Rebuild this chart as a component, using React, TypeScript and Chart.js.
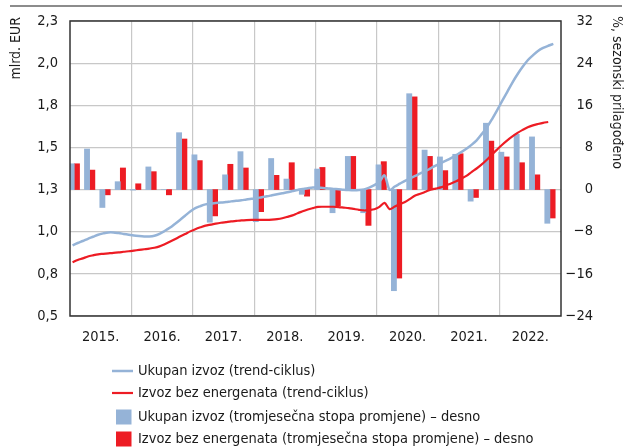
import React, { useEffect, useRef } from 'react';
import { Chart, registerables } from 'chart.js';

Chart.register(...registerables);

// ---------- data ----------
const years = ['2015.', '2016.', '2017.', '2018.', '2019.', '2020.', '2021.', '2022.'];
const leftTickValues = [0.5, 0.75, 1.0, 1.25, 1.5, 1.75, 2.0, 2.25];
const leftTickLabels = ['0,5', '0,8', '1,0', '1,3', '1,5', '1,8', '2,0', '2,3'];
const rightTickValues = [-24, -16, -8, 0, 8, 16, 24, 32];
const rightTickLabels = ['\u221224', '\u221216', '\u22128', '0', '8', '16', '24', '32'];

const legendLabels = [
  'Ukupan izvoz (trend-ciklus)',
  'Izvoz bez energenata (trend-ciklus)',
  'Ukupan izvoz (tromjesečna stopa promjene) – desno',
  'Izvoz bez energenata (tromjesečna stopa promjene) – desno',
];

// quarterly rate of change, %, 2015Q1 .. 2022Q4 (right axis)
const totalExportQoQ = [
  4.9, 7.7, -3.4, 1.5,
  -0.1, 4.3, 0.0, 10.8,
  6.6, -6.2, 2.8, 7.2,
  -6.1, 5.9, 2.0, -0.9,
  3.9, -4.4, 6.3, -4.4,
  4.7, -19.2, 18.2, 7.5,
  6.2, 6.7, -2.2, 12.6,
  7.1, 10.5, 10.0, -6.4,
];
const nonEnergyExportQoQ = [
  4.9, 3.7, -1.0, 4.1,
  1.1, 3.4, -1.0, 9.6,
  5.5, -5.0, 4.8, 4.1,
  -4.2, 2.7, 5.1, -1.25,
  4.2, -3.1, 6.3, -6.8,
  5.3, -16.8, 17.6, 6.3,
  3.6, 6.8, -1.5, 9.2,
  6.2, 5.1, 2.8, -5.4,
];

// monthly trend-cycle, bn EUR, from Jan 2015 (left axis)
const totalExportTrend = [
  0.919, 0.933, 0.945, 0.958, 0.970, 0.982, 0.990, 0.996, 0.996, 0.992, 0.987, 0.982,
  0.977, 0.974, 0.972, 0.972, 0.976, 0.987, 1.004, 1.023, 1.046, 1.070, 1.095, 1.120,
  1.140, 1.152, 1.162, 1.167, 1.170, 1.173, 1.176, 1.180, 1.183, 1.186, 1.191, 1.195,
  1.199, 1.205, 1.210, 1.216, 1.222, 1.228, 1.234, 1.241, 1.248, 1.253, 1.258, 1.262,
  1.262, 1.260, 1.257, 1.254, 1.252, 1.249, 1.247, 1.246, 1.247, 1.251, 1.261, 1.276,
  1.297, 1.334, 1.248, 1.268, 1.285, 1.302, 1.317, 1.331, 1.346, 1.359, 1.376, 1.392,
  1.407, 1.421, 1.436, 1.454, 1.472, 1.492, 1.515, 1.542, 1.579, 1.618, 1.667, 1.720,
  1.776, 1.830, 1.885, 1.934, 1.978, 2.017, 2.046, 2.072, 2.090, 2.103, 2.114,
];
const nonEnergyExportTrend = [
  0.819, 0.832, 0.842, 0.853, 0.860, 0.866, 0.869, 0.872, 0.875, 0.877, 0.881, 0.884,
  0.888, 0.892, 0.896, 0.900, 0.905, 0.913, 0.926, 0.940, 0.955, 0.971, 0.986, 1.002,
  1.015, 1.026, 1.036, 1.042, 1.048, 1.053, 1.057, 1.061, 1.064, 1.067, 1.069, 1.070,
  1.070, 1.070, 1.070, 1.072, 1.075, 1.080, 1.088, 1.097, 1.110, 1.121, 1.132, 1.140,
  1.147, 1.148, 1.148, 1.148, 1.146, 1.143, 1.140, 1.135, 1.130, 1.126, 1.129, 1.133,
  1.147, 1.171, 1.134, 1.149, 1.164, 1.176, 1.195, 1.215, 1.225, 1.237, 1.249, 1.256,
  1.263, 1.275, 1.286, 1.299, 1.315, 1.331, 1.354, 1.375, 1.399, 1.427, 1.458, 1.487,
  1.516, 1.542, 1.565, 1.586, 1.604, 1.620, 1.631, 1.639, 1.646, 1.651,
];

// ---------- style ----------
const BLUE = '#95b3d7';
const RED = '#ed1c24';
const GRID = '#c8c8c8';
const TEXT = '#1a1a1a';
const FONT_FAMILY = '"Liberation Sans Narrow", "DejaVu Sans Condensed", "Arial Narrow", "Liberation Sans", sans-serif';

const decorPlugin = {
  id: 'decor',
  afterDraw(chart: any) {
    const { ctx, chartArea } = chart;
    ctx.save();
    // plot frame
    ctx.strokeStyle = '#333333';
    ctx.lineWidth = 1.5;
    ctx.strokeRect(chartArea.left, chartArea.top, chartArea.right - chartArea.left, chartArea.bottom - chartArea.top);
    // top rule
    ctx.strokeStyle = '#666666';
    ctx.lineWidth = 1.3;
    ctx.beginPath();
    ctx.moveTo(10, 6);
    ctx.lineTo(622, 6);
    ctx.stroke();

    ctx.fillStyle = TEXT;
    ctx.font = `14px ${FONT_FAMILY}`;
    ctx.textBaseline = 'middle';
    // left axis title
    ctx.save();
    ctx.translate(16, 17);
    ctx.rotate(-Math.PI / 2);
    ctx.textAlign = 'right';
    ctx.fillText('mlrd. EUR', 0, 0);
    ctx.restore();
    // right axis title
    ctx.save();
    ctx.translate(617, 16);
    ctx.rotate(Math.PI / 2);
    ctx.textAlign = 'left';
    ctx.fillText('%, sezonski prilagođeno', 0, 0);
    ctx.restore();

    // legend
    ctx.font = `14.5px ${FONT_FAMILY}`;
    ctx.textAlign = 'left';
    const rows = [371, 393, 417, 439];
    ctx.lineWidth = 2.5;
    ctx.strokeStyle = BLUE;
    ctx.beginPath();
    ctx.moveTo(112, rows[0]);
    ctx.lineTo(133, rows[0]);
    ctx.stroke();
    ctx.strokeStyle = RED;
    ctx.lineWidth = 2.2;
    ctx.beginPath();
    ctx.moveTo(112, rows[1]);
    ctx.lineTo(133, rows[1]);
    ctx.stroke();
    ctx.fillStyle = BLUE;
    ctx.fillRect(116, rows[2] - 7.5, 15.5, 15);
    ctx.fillStyle = RED;
    ctx.fillRect(116, rows[3] - 7.5, 15.5, 15);
    ctx.fillStyle = TEXT;
    legendLabels.forEach((t, i) => ctx.fillText(t, 138, rows[i]));
    ctx.restore();
  },
};

export default function App() {
  const ref = useRef<HTMLCanvasElement | null>(null);

  useEffect(() => {
    if (!ref.current) return;
    const blueBars = totalExportQoQ.map((v, i) => ({ x: i + 0.11, y: v }));
    const redBars = nonEnergyExportQoQ.map((v, i) => ({ x: i + 0.45, y: v }));
    const blueLine = totalExportTrend.map((v, m) => ({ x: (m + 0.5) / 3, y: v }));
    const redLine = nonEnergyExportTrend.map((v, m) => ({ x: (m + 0.5) / 3, y: v }));

    const chart = new Chart(ref.current, {
      type: 'bar',
      data: {
        datasets: [
          {
            type: 'line',
            label: legendLabels[0],
            data: blueLine,
            xAxisID: 'x',
            yAxisID: 'y',
            borderColor: BLUE,
            borderWidth: 2.5,
            pointRadius: 0,
            tension: 0.3,
            order: 0,
          } as any,
          {
            type: 'line',
            label: legendLabels[1],
            data: redLine,
            xAxisID: 'x',
            yAxisID: 'y',
            borderColor: RED,
            borderWidth: 2.2,
            pointRadius: 0,
            tension: 0.3,
            order: 0,
          } as any,
          {
            type: 'bar',
            label: legendLabels[2],
            data: blueBars,
            xAxisID: 'x',
            yAxisID: 'y1',
            backgroundColor: BLUE,
            barThickness: 5.2,
            grouped: false,
            order: 1,
          } as any,
          {
            type: 'bar',
            label: legendLabels[3],
            data: redBars,
            xAxisID: 'x',
            yAxisID: 'y1',
            backgroundColor: RED,
            barThickness: 5.3,
            grouped: false,
            order: 1,
          } as any,
        ],
      },
      options: {
        animation: false,
        responsive: false,
        maintainAspectRatio: false,
        layout: { padding: { left: 20, right: 32, top: 21, bottom: 0 } },
        plugins: {
          legend: { display: false },
          tooltip: { enabled: false },
        },
        scales: {
          x: {
            type: 'linear',
            offset: false,
            min: 0,
            max: 32,
            afterBuildTicks: (s: any) => {
              const t = [];
              for (let v = 0; v <= 32; v += 2) t.push({ value: v });
              s.ticks = t;
            },
            afterFit: (s: any) => {
              s.height = 132;
            },
            grid: {
              offset: false,
              drawTicks: false,
              color: (c: any) =>
                c.tick && c.tick.value % 4 === 0 && c.tick.value > 0 && c.tick.value < 32 ? GRID : 'rgba(0,0,0,0)',
              lineWidth: 1.2,
            },
            border: { display: false },
            ticks: {
              autoSkip: false,
              maxRotation: 0,
              padding: 13,
              color: TEXT,
              font: { family: FONT_FAMILY, size: 14.5 },
              callback: (v: any) => (v % 4 === 2 ? years[(v - 2) / 4] : ''),
            },
          },
          y: {
            type: 'linear',
            position: 'left',
            min: 0.5,
            max: 2.25,
            afterBuildTicks: (s: any) => {
              s.ticks = leftTickValues.map((v) => ({ value: v }));
            },
            afterFit: (s: any) => {
              s.width = 50;
            },
            grid: { drawTicks: false, color: GRID, lineWidth: 1.2 },
            border: { display: false },
            ticks: {
              padding: 12,
              color: TEXT,
              font: { family: FONT_FAMILY, size: 14.5 },
              callback: (_v: any, i: number) => leftTickLabels[i],
            },
          },
          y1: {
            type: 'linear',
            position: 'right',
            min: -24,
            max: 32,
            afterBuildTicks: (s: any) => {
              s.ticks = rightTickValues.map((v) => ({ value: v }));
            },
            afterFit: (s: any) => {
              s.width = 32;
            },
            grid: { display: false, drawTicks: false },
            border: { display: false },
            ticks: {
              crossAlign: 'far',
              color: TEXT,
              font: { family: FONT_FAMILY, size: 14.5 },
              callback: (_v: any, i: number) => rightTickLabels[i],
            },
          },
        },
      } as any,
      plugins: [decorPlugin],
    });
    return () => chart.destroy();
  }, []);

  return (
    <div style={{ position: 'absolute', left: 0, top: 0, width: 625, height: 448, background: '#fff' }}>
      <canvas ref={ref} width={625} height={448} style={{ display: 'block' }} />
    </div>
  );
}
